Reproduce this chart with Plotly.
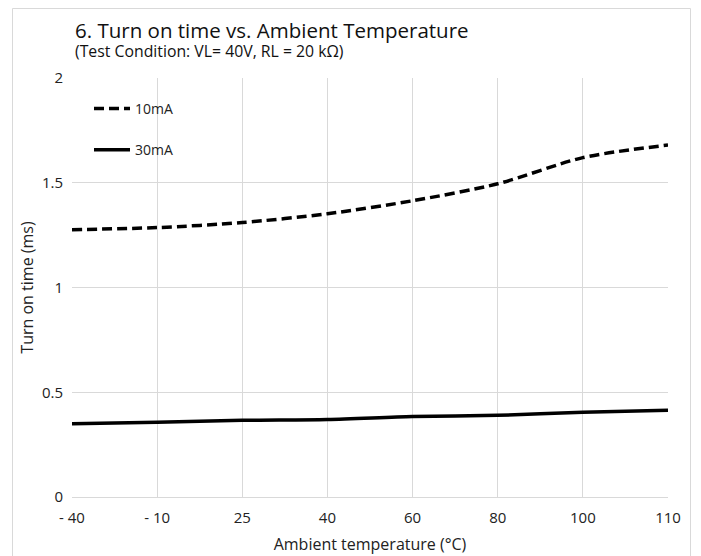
import plotly.graph_objects as go

categories = ["- 40", "- 10", "25", "40", "60", "80", "100", "110"]
series_10mA = [1.276, 1.286, 1.31, 1.352, 1.414, 1.495, 1.62, 1.68]
series_30mA = [0.350, 0.357, 0.366, 0.370, 0.384, 0.390, 0.404, 0.414]
y_ticks = [0, 0.5, 1, 1.5, 2]
y_tick_labels = ["0", "0.5", "1", "1.5", "2"]

W, H = 701, 556
L, R, T, B = 72, 33, 78, 59
pw, ph = W - L - R, H - T - B

def px(x):
    return (x - L) / pw

def py(y):
    return (H - B - y) / ph

FONT = "Open Sans"
fig = go.Figure()
fig.add_trace(go.Scatter(x=categories, y=series_10mA, mode="lines", name="10mA", legendgroup="a",
                         line=dict(color="black", width=3.5, dash="10px,5px", shape="spline", smoothing=0.8)))
fig.add_trace(go.Scatter(x=categories, y=series_30mA, mode="lines", name="30mA", legendgroup="b",
                         line=dict(color="black", width=3.5, shape="spline", smoothing=0.8)))

fig.update_layout(
    width=W, height=H,
    margin=dict(l=L, r=R, t=T, b=B, autoexpand=False),
    paper_bgcolor="white", plot_bgcolor="white",
    font=dict(family=FONT, color="#222222"),
    showlegend=True,
    legend=dict(x=px(89), y=py(93), xanchor="left", yanchor="top",
                bgcolor="rgba(0,0,0,0)", font=dict(size=14, color="#222222"),
                itemwidth=36, tracegroupgap=20, traceorder="grouped"),
    xaxis=dict(type="category", range=[0, len(categories) - 1],
               showgrid=True, gridcolor="#d9d9d9", gridwidth=1,
               showline=False, zeroline=False, ticks="", ticklabelstandoff=10,
               tickfont=dict(size=15, color="#222222"),
               title=dict(text="Ambient temperature (°C)", font=dict(size=16, color="#222222"), standoff=12)),
    yaxis=dict(range=[0, 2], tickvals=y_ticks, ticktext=y_tick_labels,
               showgrid=True, gridcolor="#d9d9d9", gridwidth=1,
               zeroline=True, zerolinecolor="#d9d9d9", zerolinewidth=1,
               showline=False, ticks="", ticklabelstandoff=8,
               tickfont=dict(size=15, color="#222222"),
               title=dict(text="Turn on time (ms)", font=dict(size=16, color="#222222"), standoff=4)),
)

title_text = ("<span style='font-size:20.5px'>6. Turn on time vs. Ambient Temperature</span><br>"
              "<span style='font-size:15.8px'>(Test Condition: VL= 40V, RL = 20 kΩ)</span>")
fig.add_annotation(text=title_text, xref="paper", yref="paper", align="left",
                   x=px(73), y=py(13.5), xanchor="left", yanchor="top", showarrow=False,
                   font=dict(size=14.3, color="#111111"))
fig.add_shape(type="rect", xref="paper", yref="paper",
              x0=px(12.5), x1=px(690.5), y0=py(570), y1=py(8.5),
              line=dict(color="#d9d9d9", width=1), fillcolor="rgba(0,0,0,0)", layer="below")

fig.write_html("out.html", config={"displayModeBar": False},
               post_script="document.body.style.margin='0';document.body.style.padding='0';")
